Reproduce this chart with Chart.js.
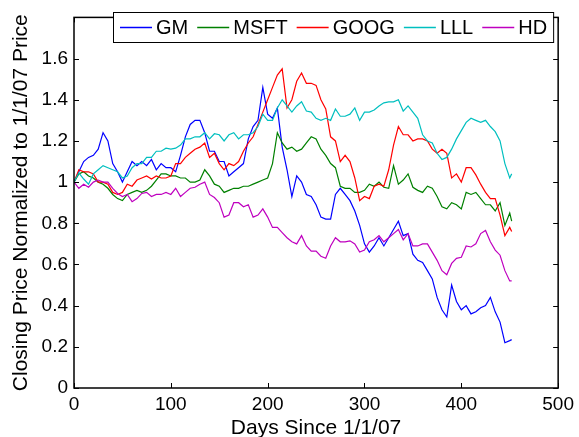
<!DOCTYPE html>
<html>
<head>
<meta charset="utf-8">
<script src="https://cdn.jsdelivr.net/npm/chart.js@4/dist/chart.umd.min.js"></script>
<style>
  html, body { margin: 0; padding: 0; background: #fff; }
  canvas { display: block; }
</style>
</head>
<body>
<canvas id="chart" width="579" height="437"></canvas>
<script>
// Stock closing prices normalised to the 1/1/07 price, sampled every ~5 days
const days = [0, 5, 10, 15, 20, 25, 30, 35, 40, 45, 50, 55, 60, 65, 70, 75, 80, 85, 90, 95,
  100, 105, 110, 115, 120, 125, 130, 135, 140, 145, 150, 155, 160, 165, 170, 175, 180, 185, 190, 195,
  200, 205, 210, 215, 220, 225, 230, 235, 240, 245, 250, 255, 260, 265, 270, 275, 280, 285, 290, 295,
  300, 305, 310, 315, 320, 325, 330, 335, 340, 345, 350, 355, 360, 365, 370, 375, 380, 385, 390, 395,
  400, 405, 410, 415, 420, 425, 430, 435, 440, 445, 450, 452];

const gm = [1.00, 1.05, 1.10, 1.12, 1.13, 1.16, 1.24, 1.20, 1.09, 1.05, 1.00, 1.05, 1.10, 1.08, 1.10, 1.08, 1.11, 1.06, 1.09, 1.07,
  1.07, 1.05, 1.13, 1.22, 1.28, 1.30, 1.30, 1.24, 1.15, 1.15, 1.10, 1.10, 1.03, 1.05, 1.07, 1.09, 1.21, 1.27, 1.30, 1.46,
  1.33, 1.31, 1.36, 1.17, 1.06, 0.93, 1.03, 1.00, 0.94, 0.93, 0.89, 0.83, 0.82, 0.82, 0.94, 0.97, 0.94, 0.91, 0.86, 0.79,
  0.70, 0.66, 0.69, 0.73, 0.69, 0.73, 0.77, 0.81, 0.74, 0.75, 0.65, 0.62, 0.61, 0.57, 0.53, 0.44, 0.38, 0.345, 0.50, 0.42,
  0.38, 0.40, 0.36, 0.37, 0.39, 0.40, 0.44, 0.37, 0.32, 0.22, 0.23, 0.235];

const msft = [1.00, 1.04, 1.05, 1.03, 1.02, 1.00, 0.99, 0.97, 0.94, 0.92, 0.91, 0.94, 0.95, 0.96, 0.95, 0.96, 0.98, 1.01, 1.04, 1.04,
  1.03, 1.03, 1.02, 1.02, 1.00, 1.00, 1.01, 1.06, 1.03, 0.99, 0.98, 0.95, 0.96, 0.97, 0.97, 0.98, 0.98, 0.99, 1.00, 1.01,
  1.02, 1.09, 1.24, 1.19, 1.16, 1.17, 1.15, 1.16, 1.19, 1.22, 1.21, 1.16, 1.13, 1.09, 1.07, 0.98, 0.97, 0.97, 0.95, 0.95,
  0.96, 0.99, 0.98, 1.00, 0.975, 0.97, 1.08, 0.99, 1.01, 1.04, 0.975, 0.96, 0.95, 0.98, 0.97, 0.93, 0.88, 0.87, 0.90, 0.89,
  0.87, 0.95, 0.94, 0.95, 0.92, 0.89, 0.89, 0.86, 0.90, 0.79, 0.85, 0.81];

const goog = [1.00, 1.06, 1.05, 1.05, 1.04, 1.00, 1.00, 0.99, 0.95, 0.94, 0.95, 0.99, 0.98, 1.01, 1.02, 1.03, 1.015, 1.03, 1.02, 1.02,
  1.03, 1.09, 1.09, 1.12, 1.14, 1.16, 1.17, 1.19, 1.12, 1.14, 1.09, 1.06, 1.09, 1.08, 1.10, 1.15, 1.19, 1.22, 1.28, 1.34,
  1.40, 1.46, 1.52, 1.55, 1.36, 1.40, 1.49, 1.53, 1.48, 1.48, 1.47, 1.40, 1.355, 1.22, 1.20, 1.10, 1.13, 1.10, 1.02, 0.91,
  0.93, 0.92, 0.98, 0.99, 0.98, 1.06, 1.18, 1.27, 1.23, 1.23, 1.20, 1.21, 1.21, 1.20, 1.16, 1.14, 1.16, 1.14, 1.02, 1.04,
  1.00, 1.07, 1.07, 1.035, 0.99, 0.95, 0.92, 0.92, 0.84, 0.74, 0.78, 0.76];

const lll = [1.00, 1.045, 1.015, 0.99, 1.04, 1.06, 1.08, 1.07, 1.06, 1.05, 1.02, 1.03, 1.07, 1.09, 1.09, 1.12, 1.12, 1.15, 1.15, 1.165,
  1.16, 1.165, 1.18, 1.21, 1.21, 1.22, 1.22, 1.24, 1.21, 1.235, 1.23, 1.20, 1.23, 1.24, 1.21, 1.23, 1.23, 1.24, 1.27, 1.33,
  1.30, 1.30, 1.36, 1.40, 1.37, 1.34, 1.37, 1.39, 1.345, 1.34, 1.31, 1.30, 1.31, 1.30, 1.355, 1.32, 1.32, 1.33, 1.36, 1.30,
  1.34, 1.34, 1.35, 1.37, 1.385, 1.39, 1.39, 1.40, 1.345, 1.37, 1.34, 1.31, 1.23, 1.20, 1.19, 1.14, 1.11, 1.12, 1.16, 1.21,
  1.25, 1.29, 1.31, 1.30, 1.29, 1.30, 1.27, 1.245, 1.20, 1.09, 1.02, 1.04];

const hd = [1.00, 0.97, 0.99, 0.975, 1.00, 1.01, 1.00, 1.00, 0.97, 0.945, 0.93, 0.94, 0.905, 0.92, 0.945, 0.95, 0.93, 0.94, 0.94, 0.95,
  0.94, 0.97, 0.93, 0.95, 0.97, 0.975, 0.99, 1.00, 0.94, 0.925, 0.90, 0.83, 0.84, 0.90, 0.90, 0.88, 0.89, 0.83, 0.84, 0.87,
  0.83, 0.78, 0.78, 0.755, 0.73, 0.71, 0.70, 0.74, 0.69, 0.665, 0.665, 0.64, 0.63, 0.69, 0.73, 0.71, 0.71, 0.715, 0.70, 0.66,
  0.67, 0.71, 0.72, 0.74, 0.71, 0.73, 0.75, 0.77, 0.72, 0.75, 0.69, 0.69, 0.70, 0.70, 0.66, 0.62, 0.57, 0.55, 0.605, 0.63,
  0.635, 0.69, 0.685, 0.70, 0.75, 0.765, 0.71, 0.67, 0.645, 0.57, 0.52, 0.52];

const seriesNames = ['GM', 'MSFT', 'GOOG', 'LLL', 'HD'];
const seriesColors = ['#0000ff', '#008000', '#ff0000', '#00bfbf', '#bf00bf'];
const seriesValues = [gm, msft, goog, lll, hd];

const xTicks = [0, 100, 200, 300, 400, 500];
const yTicks = [0, 0.2, 0.4, 0.6, 0.8, 1, 1.2, 1.4, 1.6];

const FONT = '"Liberation Sans", Arial, Helvetica, sans-serif';

// MATLAB style box with inward ticks on all four sides, plus the legend
const boxPlugin = {
  id: 'matlabBox',
  afterDatasetsDraw(chart) {
    const { ctx, chartArea: a, scales: { x, y } } = chart;
    const len = 5;
    ctx.save();
    ctx.strokeStyle = '#000';
    ctx.lineWidth = 1.5;
    ctx.strokeRect(a.left, a.top, a.right - a.left, a.bottom - a.top);
    ctx.lineWidth = 1;
    ctx.beginPath();
    xTicks.forEach(v => {
      const px = Math.round(x.getPixelForValue(v)) + 0.5;
      ctx.moveTo(px, a.bottom); ctx.lineTo(px, a.bottom - len);
      ctx.moveTo(px, a.top); ctx.lineTo(px, a.top + len);
    });
    yTicks.forEach(v => {
      const py = Math.round(y.getPixelForValue(v)) + 0.5;
      ctx.moveTo(a.left, py); ctx.lineTo(a.left + len, py);
      ctx.moveTo(a.right, py); ctx.lineTo(a.right - len, py);
    });
    ctx.stroke();
    ctx.restore();
  },
  afterDraw(chart) {
    const { ctx } = chart;
    const left = 113, top = 12, h = 30, lineLen = 32;
    ctx.save();
    ctx.font = '20px ' + FONT;
    let cx = left + 7;
    const items = seriesNames.map((name, i) => {
      const w = ctx.measureText(name).width;
      const it = { x: cx, label: name, color: seriesColors[i] };
      cx += lineLen + 4 + w + 9;
      return it;
    });
    const right = cx - 3;
    ctx.fillStyle = '#fff';
    ctx.fillRect(left, top, right - left, h);
    ctx.strokeStyle = '#000';
    ctx.lineWidth = 1;
    ctx.strokeRect(left + 0.5, top + 0.5, right - left, h);
    const cy = top + 15.5;
    items.forEach(it => {
      ctx.beginPath();
      ctx.strokeStyle = it.color;
      ctx.lineWidth = 1.5;
      ctx.moveTo(it.x, cy);
      ctx.lineTo(it.x + lineLen, cy);
      ctx.stroke();
      ctx.fillStyle = '#000';
      ctx.textBaseline = 'middle';
      ctx.fillText(it.label, it.x + lineLen + 4, cy + 1);
    });
    ctx.restore();
  }
};

const datasets = seriesNames.map((name, i) => ({
  label: name,
  data: days.map((d, j) => ({ x: d, y: seriesValues[i][j] })),
  borderColor: seriesColors[i],
  backgroundColor: seriesColors[i],
  borderWidth: 1.2,
  pointRadius: 0,
  fill: false,
  order: seriesNames.length - i
}));

new Chart(document.getElementById('chart').getContext('2d'), {
  type: 'line',
  data: { datasets },
  plugins: [boxPlugin],
  options: {
    responsive: false,
    animation: false,
    devicePixelRatio: 1,
    layout: { padding: { top: 8, right: 18, left: 0, bottom: 0 } },
    plugins: { legend: { display: false }, tooltip: { enabled: false } },
    scales: {
      x: {
        type: 'linear',
        min: 0,
        max: 500,
        afterBuildTicks: s => { s.ticks = xTicks.map(v => ({ value: v })); },
        ticks: { color: '#000', padding: 5, maxRotation: 0, font: { family: FONT, size: 19 } },
        grid: { display: false, drawTicks: false },
        border: { display: false },
        title: {
          display: true, text: 'Days Since 1/1/07', color: '#000',
          font: { family: FONT, size: 21, lineHeight: 1 }, padding: { top: 0, bottom: -2 }
        },
        afterFit: s => { s.height = 49; }
      },
      y: {
        type: 'linear',
        min: 0,
        max: 1.8,
        afterBuildTicks: s => { s.ticks = yTicks.map(v => ({ value: v })); },
        ticks: {
          color: '#000', padding: 6, font: { family: FONT, size: 19 },
          callback: v => String(+v.toFixed(1))
        },
        grid: { display: false, drawTicks: false },
        border: { display: false },
        title: {
          display: true, text: 'Closing Price Normalized to 1/1/07 Price', color: '#000',
          font: { family: FONT, size: 21, lineHeight: 1 }, padding: { top: 11, bottom: 0 }
        },
        afterFit: s => { s.width = 74; }
      }
    }
  }
});
</script>
</body>
</html>
